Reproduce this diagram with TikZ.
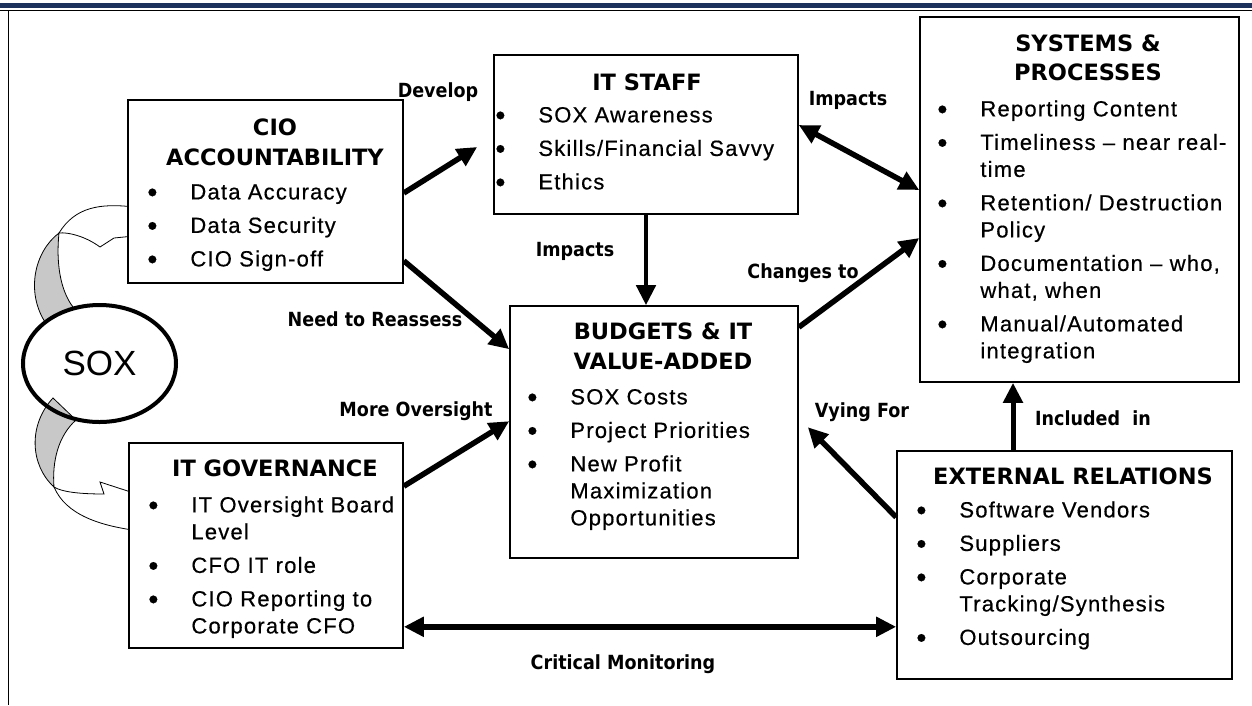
\documentclass[tikz,border=0pt]{standalone}
\usepackage{fontspec}
\setmainfont{Liberation Sans}
\newfontfamily\bodyfont{Liberation Sans}[LetterSpace=5.5,FakeBold=0.5]
\newfontfamily\headfont{DejaVu Sans}
\newfontfamily\lblfont{DejaVu Sans}[FakeStretch=0.9]
\usetikzlibrary{positioning,arrows.meta,shapes.geometric}

\definecolor{navy}{RGB}{28,50,92}
\definecolor{twist}{RGB}{200,200,200}

\tikzset{
  box/.style={draw, line width=1.6pt, fill=white, inner sep=0pt},
  boxtitle/.style={inner sep=0pt, align=center, font=\headfont\bfseries\fontsize{22.5}{30}\selectfont},
  boxlist/.style={inner sep=0pt, font=\bodyfont\fontsize{22}{27}\selectfont},
  lbl/.style={inner sep=0pt, font=\lblfont\bfseries\fontsize{19.5}{23}\selectfont},
  link/.style={line width=5.5pt, -{Triangle[length=20pt,width=19pt]}},
  twolink/.style={line width=5.5pt, {Triangle[length=20pt,width=19pt]}-{Triangle[length=20pt,width=19pt]}},
  twistpart/.style={draw, line width=0.8pt, fill=twist},
  bendpart/.style={draw, line width=0.8pt, fill=white},
}

\newcommand{\itm}[1]{\raisebox{-2.5pt}{\scalebox{1.3}{\textbullet}} & #1}

\begin{document}
\begin{tikzpicture}[x=1pt, y=-1pt]
   \useasboundingbox (0,0) rectangle (1252,705);

   % page frame
   \fill[navy] (0,3) rectangle (1252,7.5);
   \draw[line width=1pt] (0,10) -- (1252,10);
   \draw[line width=1pt] (8,10) -- (8,705);

   % curved arrows out of SOX
   \draw[twistpart] (45,322) .. controls (26,292) and (34,252) .. (59,233)
                   .. controls (56,262) and (60,290) .. (73,307) -- cycle;
   \draw[bendpart] (59,233) .. controls (75,207) and (100,203) .. (134,207)
                   -- (134,236) -- (114,238) -- (100,247)
                   .. controls (85,236) and (68,232) .. (59,233) -- cycle;
   \draw[twistpart] (53,398) .. controls (28,425) and (30,465) .. (54,487)
                   .. controls (52,462) and (58,436) .. (76,420) -- cycle;
   \draw[bendpart] (54,487) .. controls (66,515) and (100,526) .. (140,531)
                   -- (140,495) -- (100,482) -- (104,494)
                   .. controls (80,494) and (62,492) .. (54,487) -- cycle;

   \node[draw, ellipse, line width=4pt, minimum width=153pt, minimum height=117pt,
         font=\fontsize{35}{40}\selectfont] (sox) at (99.5,363.5) {SOX};

   % boxes
   \node[box, minimum width=275pt, minimum height=183pt] (cio)    at (265.5,191.5) {};
   \node[box, minimum width=304pt, minimum height=159pt] (staff)  at (646,134.5)   {};
   \node[box, minimum width=319pt, minimum height=365pt] (sys)    at (1079.5,199.5) {};
   \node[box, minimum width=288pt, minimum height=252pt] (budget) at (654,432)     {};
   \node[box, minimum width=274pt, minimum height=205pt] (gov)    at (266,545.5)   {};
   \node[box, minimum width=335pt, minimum height=228pt] (ext)    at (1064.5,565)  {};

   % titles
   \node[boxtitle, below=15pt of cio.north, xshift=9.5pt]    (cio title)    {\strut CIO\\ACCOUNTABILITY};
   \node[boxtitle, below=15pt of staff.north, xshift=1pt]    (staff title)  {\strut IT STAFF};
   \node[boxtitle, below=15pt of sys.north, xshift=8.5pt, font=\headfont\bfseries\fontsize{22.5}{29}\selectfont]
                                                             (sys title)    {\strut SYSTEMS \&\\PROCESSES};
   \node[boxtitle, below=13pt of budget.north, xshift=9pt]   (budget title) {\strut BUDGETS \& IT\\VALUE-ADDED};
   \node[boxtitle, below=13pt of gov.north, xshift=9pt]      (gov title)    {\strut IT GOVERNANCE};
   \node[boxtitle, below=13pt of ext.north, xshift=8.5pt]    (ext title)    {\strut EXTERNAL RELATIONS};

   % bullet lists
   \node[boxlist, below right=81.1pt and 20pt of cio.north west] (cio list) {%
     \begin{tabular}{@{}p{43pt}@{}l@{}}
       \itm{Data Accuracy}\\[6.5pt]
       \itm{Data Security}\\[6.5pt]
       \itm{CIO Sign-off}
     \end{tabular}};
   \node[boxlist, below right=49.1pt and 2pt of staff.north west] (staff list) {%
     \begin{tabular}{@{}p{43pt}@{}l@{}}
       \itm{SOX Awareness}\\[6.5pt]
       \itm{Skills/Financial Savvy}\\[6.5pt]
       \itm{Ethics}
     \end{tabular}};
   \node[boxlist, below right=81.1pt and 18pt of sys.north west] (sys list) {%
     \begin{tabular}{@{}p{43pt}@{}l@{}}
       \itm{Reporting Content}\\[6.5pt]
       \itm{Timeliness – near real-}\\
           & time\\[6.5pt]
       \itm{Retention/ Destruction}\\
           & Policy\\[6.5pt]
       \itm{Documentation – who,}\\
           & what, when\\[6.5pt]
       \itm{Manual/Automated}\\
           & integration
     \end{tabular}};
   \node[boxlist, below right=80.1pt and 18pt of budget.north west] (budget list) {%
     \begin{tabular}{@{}p{43pt}@{}l@{}}
       \itm{SOX Costs}\\[6.5pt]
       \itm{Project Priorities}\\[6.5pt]
       \itm{New Profit}\\
           & Maximization\\
           & Opportunities
     \end{tabular}};
   \node[boxlist, below right=51.1pt and 20pt of gov.north west] (gov list) {%
     \begin{tabular}{@{}p{43pt}@{}l@{}}
       \itm{IT Oversight Board}\\
           & Level\\[6.5pt]
       \itm{CFO IT role}\\[6.5pt]
       \itm{CIO Reporting to}\\
           & Corporate CFO
     \end{tabular}};
   \node[boxlist, below right=48.1pt and 20pt of ext.north west] (ext list) {%
     \begin{tabular}{@{}p{43pt}@{}l@{}}
       \itm{Software Vendors}\\[6.5pt]
       \itm{Suppliers}\\[6.5pt]
       \itm{Corporate}\\
           & Tracking/Synthesis\\[6.5pt]
       \itm{Outsourcing}
     \end{tabular}};

   % connector labels
   \node[lbl] (develop)  at (438,92)   {Develop};
   \node[lbl] (reassess) at (375,319)  {Need to Reassess};
   \node[lbl] (oversight) at (416,411) {More Oversight};
   \node[lbl] (impacts budget) at (575,251) {Impacts};
   \node[lbl] (impacts sys) at (848,100) {Impacts};
   \node[lbl] (changes)  at (803,273)  {Changes to};
   \node[lbl] (vying)    at (862,412)  {Vying For};
   \node[lbl] (included) at (1093,418) {Included\ \ in};
   \node[lbl] (monitoring) at (623,664) {Critical Monitoring};

   % connectors
   \coordinate (mon) at ([yshift=22pt]gov.south east);
   \draw[link] ([yshift=-1.5pt]cio.east) -- ([xshift=-16pt,yshift=-12.5pt]staff.west);
   \draw[link] ([yshift=23pt]cio.south east) -- ([yshift=-44pt]budget.north west);
   \draw[link] ([yshift=-44pt]gov.north east) -- ([yshift=-116pt]budget.north west);
   \draw[link, line width=4.5pt] (staff.south) -- (staff.south |- budget.north);
   \draw[twolink] ([yshift=9.5pt]staff.east) -- ([yshift=9.5pt]sys.west);
   \draw[link] ([yshift=-22pt]budget.north east) -- ([yshift=-38.5pt]sys.west);
   \draw[link] ([yshift=-67pt]ext.north west) -- ([xshift=9pt,yshift=-122pt]budget.north east);
   \draw[link, line width=5pt] ([xshift=-51.5pt]ext.north) -- ([xshift=-51.5pt]ext.north |- sys.south);
   \draw[twolink] (mon) -- (mon -| ext.west);
\end{tikzpicture}
\end{document}
